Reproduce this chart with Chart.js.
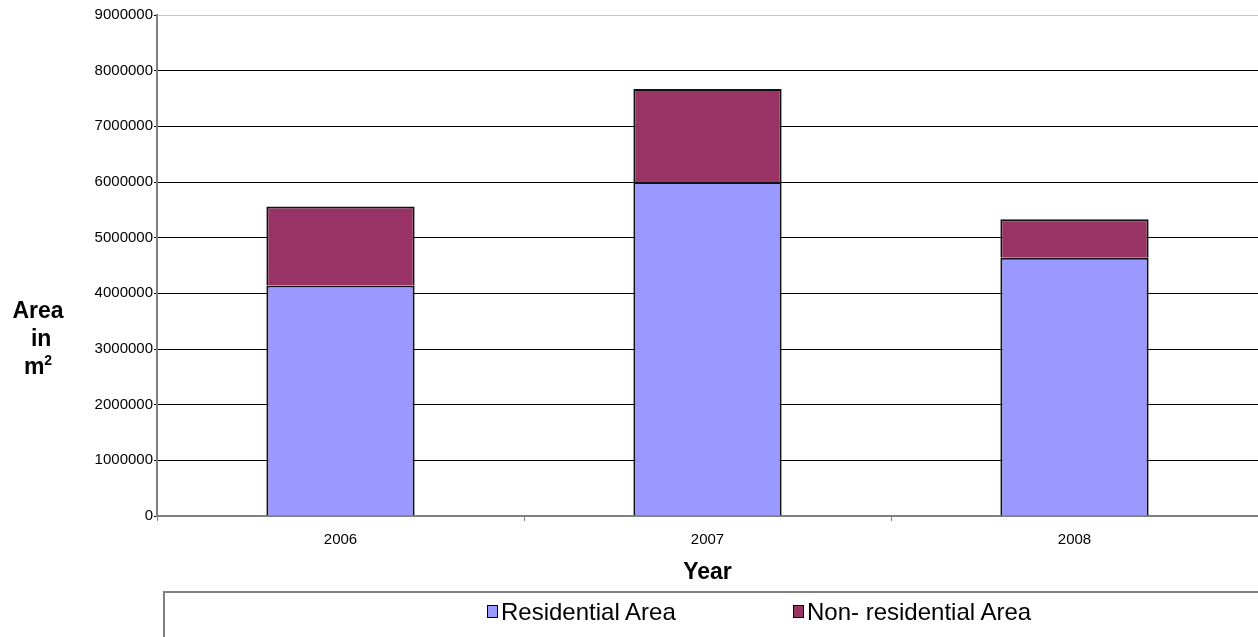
<!DOCTYPE html>
<html>
<head>
<meta charset="utf-8">
<script src="https://cdn.jsdelivr.net/npm/chart.js@4.4.0/dist/chart.umd.min.js"></script>
<style>
  body { margin: 0; background: #fff; font-family: "Liberation Sans", Arial, sans-serif; }
  #wrap { position: relative; width: 1258px; height: 637px; overflow: hidden; }
  #yTitle { position: absolute; left: 0; top: 296px; width: 76px; text-align: center;
            font-weight: bold; font-size: 23px; line-height: 28px; color: #000; }
  #legendBox { position: absolute; left: 163px; top: 591px; width: 1110px; height: 60px;
               border: 2px solid #808080; box-sizing: border-box; }
  .item { position: absolute; top: 5px; font-size: 24px; color: #000; white-space: nowrap; }
  .sw { display: inline-block; width: 9px; height: 11px; border: 1px solid #000;
        margin-right: 3px; vertical-align: 2px; }
</style>
</head>
<body>
<div id="wrap">
  <canvas id="areaChart" width="1258" height="637"></canvas>
  <div id="yTitle">Area<br>&nbsp;in<br>m<sup style="font-size:14px;vertical-align:9px;line-height:0">2</sup></div>
  <div id="legendBox">
    <div class="item" style="left:322px"><span class="sw" style="background:#9999ff"></span>Residential Area</div>
    <div class="item" style="left:628px"><span class="sw" style="background:#993366"></span>Non- residential Area</div>
  </div>
</div>
<script>
const years = ["2006", "2007", "2008"];
const residential = [4140000, 6000000, 4640000];
const nonResidential = [1420000, 1670000, 690000];
const yTicks = [0, 1000000, 2000000, 3000000, 4000000, 5000000, 6000000, 7000000, 8000000, 9000000];

const ctx = document.getElementById("areaChart").getContext("2d");

new Chart(ctx, {
    type: "bar",
    data: {
        labels: years,
        datasets: [
            {
                label: "Residential Area",
                data: residential,
                backgroundColor: "#9999ff",
                borderColor: "#111",
                borderWidth: 2,
                categoryPercentage: 1,
                barPercentage: 0.404
            },
            {
                label: "Non- residential Area",
                data: nonResidential,
                backgroundColor: "#993366",
                borderColor: "#111",
                borderWidth: 2,
                categoryPercentage: 1,
                barPercentage: 0.404
            }
        ]
    },
    options: {
        responsive: false,
        animation: false,
        layout: { padding: { top: 15, right: 0, bottom: 51, left: 0 } },
        plugins: {
            legend: { display: false },
            tooltip: { enabled: false }
        },
        scales: {
            x: {
                stacked: true,
                afterFit: s => { s.height = 70; },
                grid: {
                    offset: true,
                    drawOnChartArea: false,
                    drawTicks: true,
                    tickLength: 5,
                    color: "#808080"
                },
                border: { color: "#808080", width: 2 },
                ticks: {
                    color: "#000",
                    font: { family: "Liberation Sans", size: 15 },
                    padding: 10
                },
                title: {
                    display: true,
                    text: "Year",
                    color: "#000",
                    font: { family: "Liberation Sans", size: 23, weight: "bold" },
                    padding: { top: 10, bottom: 0 }
                }
            },
            y: {
                stacked: true,
                min: 0,
                max: 9000000,
                afterFit: s => { s.width = 157; },
                afterBuildTicks: s => { s.ticks = yTicks.map(v => ({ value: v })); },
                grid: {
                    color: c => (c.tick && c.tick.value === 9000000) ? "#c8c8c8" : "#000",
                    tickColor: "#000",
                    tickLength: 3,
                    lineWidth: 1
                },
                border: { color: "#808080", width: 2 },
                ticks: {
                    color: "#000",
                    font: { family: "Liberation Sans", size: 15 },
                    padding: 1,
                    callback: v => String(v)
                }
            }
        }
    }
});
</script>
</body>
</html>
